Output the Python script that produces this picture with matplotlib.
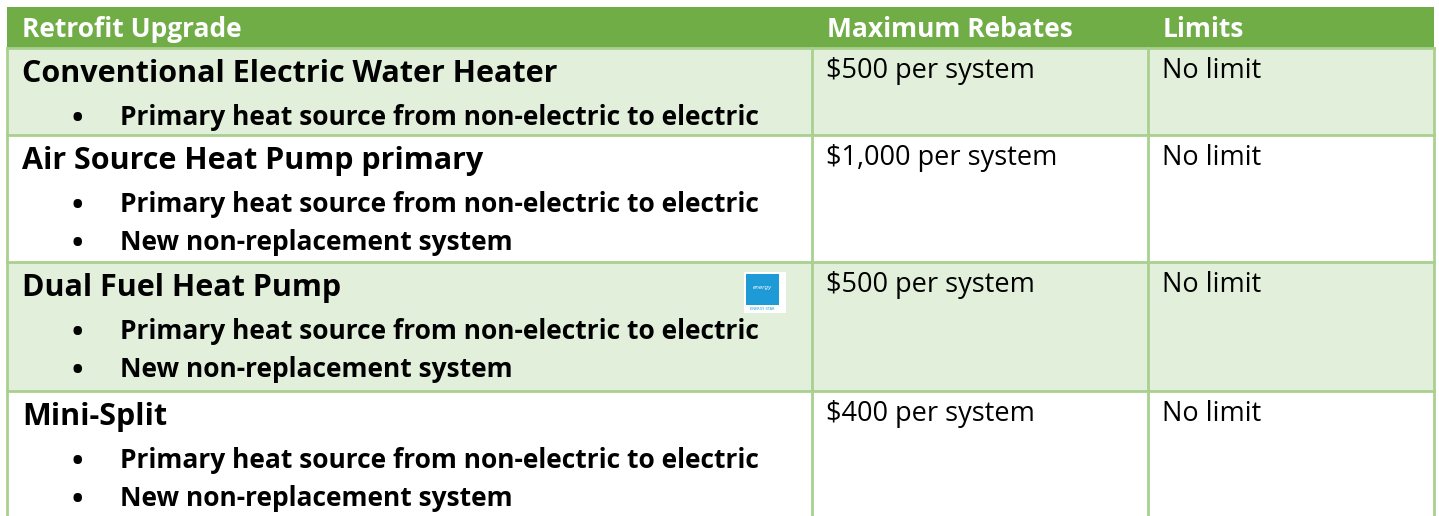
import matplotlib.pyplot as plt
from matplotlib.patches import Rectangle

headers = ["Retrofit Upgrade", "Maximum Rebates", "Limits"]
upgrades = ["Conventional Electric Water Heater", "Air Source Heat Pump primary",
            "Dual Fuel Heat Pump", "Mini-Split"]
bullets = [
    ["Primary heat source from non-electric to electric"],
    ["Primary heat source from non-electric to electric", "New non-replacement system"],
    ["Primary heat source from non-electric to electric", "New non-replacement system"],
    ["Primary heat source from non-electric to electric", "New non-replacement system"],
]
rebates = ["$500 per system", "$1,000 per system", "$500 per system", "$400 per system"]
limits = ["No limit", "No limit", "No limit", "No limit"]

# layout in pixels
W, H = 1439, 516
col_x = [7, 812, 1148, 1434]
row_y = [7, 48, 135, 262, 391, 530]
green = "#70AD47"
light = "#E2EFDA"
line = "#A9D08E"
font = "Open Sans"

fig = plt.figure(figsize=(W / 100, H / 100), dpi=100)
ax = fig.add_axes([0, 0, 1, 1])
ax.set_xlim(0, W)
ax.set_ylim(H, 0)
ax.axis("off")

# header band
ax.add_patch(Rectangle((col_x[0], row_y[0]), col_x[-1] - col_x[0], row_y[1] - row_y[0],
                       facecolor=green, edgecolor="none"))
for i, h in enumerate(headers):
    ax.text(col_x[i] + 15, 37, h, color="white",
            fontsize=19, fontweight="bold", family=font, va="baseline")

# body rows
for r in range(len(upgrades)):
    top, bot = row_y[r + 1], row_y[r + 2]
    fc = light if r % 2 == 0 else "white"
    ax.add_patch(Rectangle((col_x[0], top), col_x[-1] - col_x[0], bot - top,
                           facecolor=fc, edgecolor="none"))
    ax.plot([col_x[0], col_x[-1]], [top, top], color=line, lw=2)
    ax.text(col_x[0] + 15, top + 34, upgrades[r], fontsize=22, fontweight="bold",
            family=font, va="baseline")
    for j, b in enumerate(bullets[r]):
        y = top + 77 + j * 38
        ax.text(77, y + 2, "\u2022", fontsize=22, fontweight="bold", family=font,
                va="baseline", ha="center")
        ax.text(120, y, b, fontsize=19, fontweight="bold", family=font, va="baseline")
    ax.text(col_x[1] + 14, top + 30, rebates[r], fontsize=19.5, family=font, va="baseline")
    ax.text(col_x[2] + 14, top + 30, limits[r], fontsize=19.5, family=font, va="baseline")

# vertical lines
for x in col_x:
    ax.plot([x, x], [row_y[1], H], color=line, lw=2)

# small energy star mark
r3 = row_y[3]
ax.add_patch(Rectangle((744, r3 + 10), 42, 41, facecolor="white", edgecolor="none"))
ax.add_patch(Rectangle((746, r3 + 12), 33, 31, facecolor="#1E9AD6", edgecolor="none"))
ax.text(762, r3 + 26, "energy", color="white", fontsize=4, style="italic",
        ha="center", va="center")
ax.text(762, r3 + 47, "ENERGY STAR", color="#1E9AD6", fontsize=2.5,
        ha="center", va="center")

fig.savefig("out.png", dpi=100)
